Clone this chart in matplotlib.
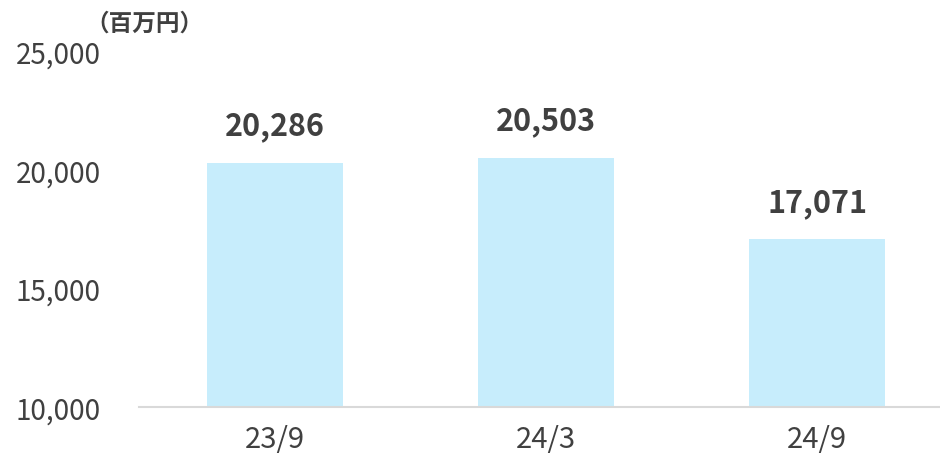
import matplotlib
matplotlib.use('Agg')
import matplotlib.pyplot as plt
import matplotlib.ticker as pltticker

plt.rcParams['font.family'] = ['Noto Sans CJK JP', 'DejaVu Sans']

periods = ['23/9', '24/3', '24/9']
values = [20286, 20503, 17071]
yticks = [10000, 15000, 20000, 25000]

fig = plt.figure(figsize=(9.4, 4.6), dpi=100)
ax = fig.add_axes([0.1484, 0.113, 0.865, 0.774])

xpos = range(len(periods))
ax.bar(xpos, values, width=0.50, color='#C7EDFC', zorder=2)
for x, v in zip(xpos, values):
    ax.text(x, v + 900, '{:,}'.format(v), ha='center', va='bottom',
            fontsize=22, fontweight='bold', color='#404040')

ax.set_xlim(-0.5, 2.5)
ax.set_ylim(10000, 25000)
ax.set_yticks(yticks)
ax.yaxis.set_major_formatter(pltticker.FuncFormatter(lambda v, p: '{:,}'.format(int(v))))
ax.set_xticks(list(xpos))
ax.set_xticklabels(periods)
ax.tick_params(axis='both', length=0, labelsize=20, labelcolor='#404040')
ax.tick_params(axis='x', labelsize=21, pad=12)
ax.tick_params(axis='y', pad=28)
for s in ['top', 'right', 'left']:
    ax.spines[s].set_visible(False)
ax.spines['bottom'].set_color('#D9D9D9')
ax.spines['bottom'].set_linewidth(1.5)

fig.text(0.091, 0.948, '（百万円）', ha='left', va='center', fontsize=17,
         fontweight='bold', color='#404040')

fig.savefig('out.png', dpi=100, facecolor='white')
